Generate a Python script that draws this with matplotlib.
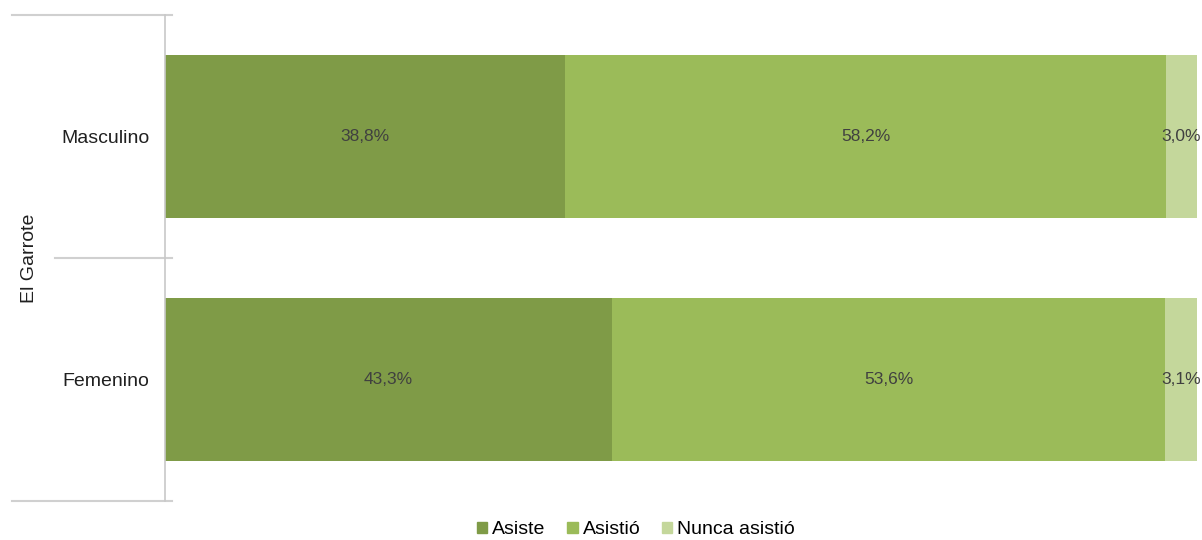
import matplotlib.pyplot as plt
from matplotlib.patches import Patch

plt.rcParams['font.family'] = ['Liberation Sans', 'DejaVu Sans']

# data
categories = ['Femenino', 'Masculino']
series = ['Asiste', 'Asistió', 'Nunca asistió']
asiste = [43.3, 38.8]
asistio = [53.6, 58.2]
nunca = [3.1, 3.0]
group_label = 'El Garrote'

colors = ['#7f9b47', '#9bbb59', '#c4d79b']

fig = plt.figure(figsize=(12.02, 5.4), dpi=100)
ax = fig.add_axes([165/1202, 1 - 501/540, 1032/1202, 486/540])

values = [asiste, asistio, nunca]
left = [0, 0]
ypos = [0, 1]
for vals, col in zip(values, colors):
    ax.barh(ypos, vals, left=left, height=0.667, color=col, edgecolor='none')
    for y, v, l in zip(ypos, vals, left):
        ax.text(l + v / 2, y, f'{v:.1f}%'.replace('.', ','), ha='center', va='center',
                fontsize=12.5, color='#404040')
    left = [a + b for a, b in zip(left, vals)]

ax.set_xlim(0, 100)
ax.set_ylim(-0.5, 1.5)
ax.set_xticks([])
ax.set_yticks(ypos)
ax.set_yticklabels(categories, fontsize=14, color='#202020')
ax.tick_params(axis='y', length=0, pad=11)

for s in ['top', 'right', 'bottom']:
    ax.spines[s].set_visible(False)
ax.spines['left'].set_color('#c8c8c8')
ax.spines['left'].set_linewidth(1.2)

# group separator lines
trans = ax.get_yaxis_transform()
for y, x0 in [(1.5, -0.148), (0.5, -0.107), (-0.5, -0.148)]:
    ax.plot([x0, 0.0068], [y, y], color='#d0d0d0', lw=1.5, transform=trans, clip_on=False)

ax.text(-0.131, 0.5, group_label, rotation=90, ha='center', va='center',
        fontsize=14, color='#202020', transform=trans)

handles = [Patch(color=c, label=s) for c, s in zip(colors, series)]
fig.legend(handles=handles, loc='center', bbox_to_anchor=(0.529, 1 - 530/540), ncol=3,
           frameon=False, fontsize=14, handlelength=0.55, handleheight=0.55,
           handletextpad=0.25, columnspacing=1.1)

fig.savefig('out.png', dpi=100)
